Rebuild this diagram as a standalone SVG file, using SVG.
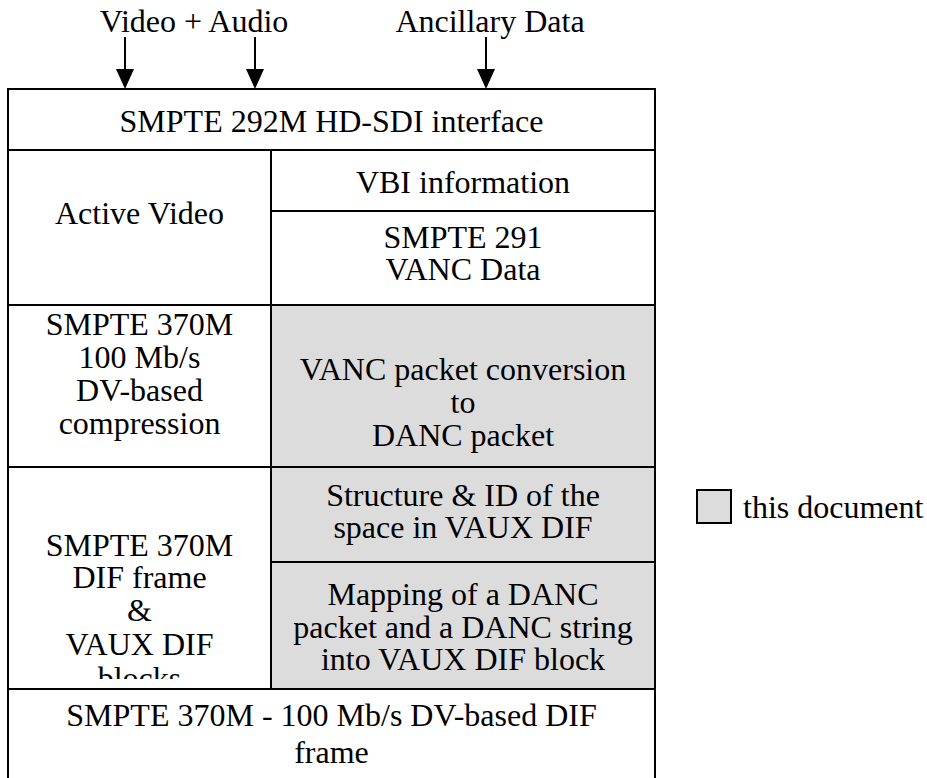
<svg xmlns="http://www.w3.org/2000/svg" width="927" height="778" viewBox="0 0 927 778">
  <defs>
    <style>
      .cell { fill: #ffffff; stroke: #000000; stroke-width: 2; }
      .spec { fill: #dcdcdc; stroke: #000000; stroke-width: 2; }
      text { font-family: "Liberation Serif", "Times New Roman", "DejaVu Serif", serif; font-size: 32px; fill: #000000; }
      .lbl { text-anchor: middle; }
      .conn { stroke: #000000; stroke-width: 2; fill: none; }
      .head { fill: #000000; stroke: none; }
    </style>
    <clipPath id="difClip">
      <rect x="8" y="467" width="263" height="212"/>
    </clipPath>
  </defs>
  <rect width="927" height="778" fill="#ffffff"/>

  <!-- input labels -->
  <text class="lbl" x="194" y="32">Video + Audio</text>
  <text class="lbl" x="490" y="32">Ancillary Data</text>

  <!-- input arrows -->
  <g id="connectors">
    <line class="conn" x1="125" y1="37" x2="125" y2="70"/>
    <polygon class="head" points="116,69 134,69 125,89"/>
    <line class="conn" x1="255" y1="37" x2="255" y2="70"/>
    <polygon class="head" points="246,69 264,69 255,89"/>
    <line class="conn" x1="486" y1="37" x2="486" y2="70"/>
    <polygon class="head" points="477,69 495,69 486,89"/>
  </g>

  <g id="hdsdi">
    <rect class="cell" x="8" y="89" width="647" height="61"/>
    <text class="lbl" x="331.5" y="132">SMPTE 292M HD-SDI interface</text>
  </g>

  <g id="active-video">
    <rect class="cell" x="8" y="150" width="263" height="155"/>
    <text class="lbl" x="139.5" y="224">Active Video</text>
  </g>

  <g id="vbi">
    <rect class="cell" x="271" y="150" width="384" height="61"/>
    <text class="lbl" x="463" y="193">VBI information</text>
  </g>

  <g id="vanc">
    <rect class="cell" x="271" y="211" width="384" height="94"/>
    <text class="lbl" x="463" y="248">SMPTE 291</text>
    <text class="lbl" x="463" y="280">VANC Data</text>
  </g>

  <g id="dv-compression">
    <rect class="cell" x="8" y="305" width="263" height="162"/>
    <text class="lbl" x="139.5" y="335">SMPTE 370M</text>
    <text class="lbl" x="139.5" y="368">100 Mb/s</text>
    <text class="lbl" x="139.5" y="401">DV-based</text>
    <text class="lbl" x="139.5" y="434">compression</text>
  </g>

  <g id="conversion">
    <rect class="spec" x="271" y="305" width="384" height="162"/>
    <text class="lbl" x="463" y="380">VANC packet conversion</text>
    <text class="lbl" x="463" y="413">to</text>
    <text class="lbl" x="463" y="446">DANC packet</text>
  </g>

  <g id="dif-frame">
    <rect class="cell" x="8" y="467" width="263" height="222"/>
    <g clip-path="url(#difClip)">
      <text class="lbl" x="139.5" y="556">SMPTE 370M</text>
      <text class="lbl" x="139.5" y="588">DIF frame</text>
      <text class="lbl" x="139.5" y="621">&amp;</text>
      <text class="lbl" x="139.5" y="655">VAUX DIF</text>
      <text class="lbl" x="139.5" y="689">blocks</text>
    </g>
  </g>

  <g id="structure">
    <rect class="spec" x="271" y="467" width="384" height="95"/>
    <text class="lbl" x="463" y="506">Structure &amp; ID of the</text>
    <text class="lbl" x="463" y="538">space in VAUX DIF</text>
  </g>

  <g id="mapping">
    <rect class="spec" x="271" y="562" width="384" height="127"/>
    <text class="lbl" x="463" y="605">Mapping of a DANC</text>
    <text class="lbl" x="463" y="638">packet and a DANC string</text>
    <text class="lbl" x="463" y="670">into VAUX DIF block</text>
  </g>

  <g id="dif-output">
    <rect class="cell" x="8" y="689" width="647" height="110"/>
    <text class="lbl" x="331.5" y="726">SMPTE 370M - 100 Mb/s DV-based DIF</text>
    <text class="lbl" x="331.5" y="763">frame</text>
  </g>

  <g id="legend">
    <rect class="spec" x="697" y="490" width="34" height="33"/>
    <text x="743" y="518">this document</text>
  </g>
</svg>
